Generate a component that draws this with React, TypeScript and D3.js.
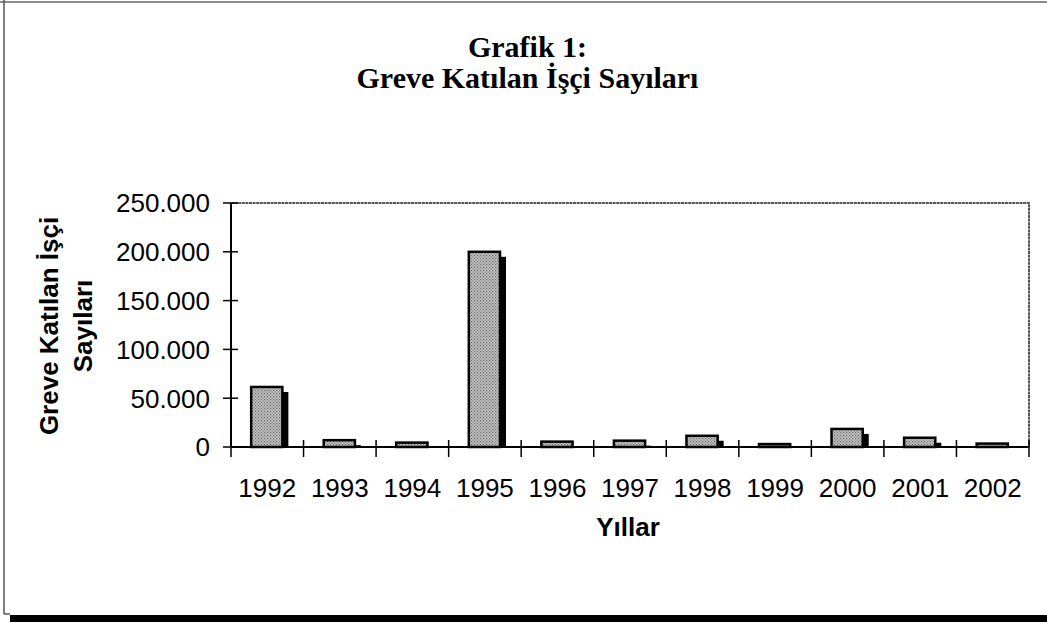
import React from 'react';
import * as d3 from 'd3';

// Greve katılan işçi sayıları (1992-2002)
const years = ['1992', '1993', '1994', '1995', '1996', '1997', '1998', '1999', '2000', '2001', '2002'];
const workers = [61500, 7000, 4500, 200000, 5500, 6500, 11500, 3000, 18500, 9500, 3500];
const yTicks = [0, 50000, 100000, 150000, 200000, 250000];

const titleLines = ['Grafik 1:', 'Greve Katılan İşçi Sayıları'];
const yTitleLines = ['Greve Katılan İşçi', 'Sayıları'];
const xTitle = 'Yıllar';

const W = 1047;
const H = 623;
const plot = { left: 231, right: 1029, top: 203, bottom: 447 };

const trFormat = d3.formatLocale({
  decimal: ',',
  thousands: '.',
  grouping: [3],
  currency: ['', ''],
}).format(',');

export default function App() {
  const x = d3.scaleBand().domain(years).range([plot.left, plot.right]).paddingInner(0).paddingOuter(0);
  const y = d3.scaleLinear().domain([0, 250000]).range([plot.bottom, plot.top]);

  const barW = x.bandwidth() * 0.43;
  const depth = { dx: 6, dy: 5 };
  const sans = 'Arial, "Liberation Sans", Helvetica, sans-serif';

  return (
    <svg width={W} height={H} style={{ position: 'absolute', left: 0, top: 0, background: '#fff' }}>
      <defs>
        <pattern id="dots" width="3" height="3" patternUnits="userSpaceOnUse">
          <rect width="3" height="3" fill="#c4c4c4" />
          <rect x="0" y="0" width="1.2" height="1.2" fill="#666" />
          <rect x="1.5" y="1.5" width="1.2" height="1.2" fill="#777" />
        </pattern>
      </defs>

      {/* frame */}
      <line x1={0} x2={W} y1={2} y2={2} stroke="#666" strokeWidth={1.5} />
      <line x1={4} x2={4} y1={0} y2={614} stroke="#555" strokeWidth={1.5} />
      <line x1={4} x2={10} y1={614} y2={614} stroke="#555" strokeWidth={1.5} />
      <rect x={10} y={615} width={W - 10} height={7} fill="#000" />

      {/* title */}
      <text textAnchor="middle" fontFamily='"Times New Roman", "Liberation Serif", serif' fontWeight="bold" fontSize={30} fill="#000">
        {titleLines.map((t, i) => (
          <tspan key={i} x={527.5} y={57 + i * 31}>{t}</tspan>
        ))}
      </text>

      {/* plot area border (top/right) */}
      <path
        d={`M${plot.left},${plot.top}H${plot.right}V${plot.bottom}`}
        fill="none"
        stroke="#555"
        strokeWidth={2}
        strokeDasharray="3 0.6"
      />

      {/* bars */}
      {years.map((yr, i) => {
        const cx = (x(yr) as number) + x.bandwidth() / 2 - 0.5;
        const x0 = cx - barW / 2;
        const top = y(workers[i]);
        return (
          <g key={yr}>
            <rect
              x={x0 + depth.dx}
              y={Math.min(top + depth.dy, plot.bottom)}
              width={barW}
              height={Math.max(plot.bottom - top - depth.dy, 0)}
              fill="#000"
            />
            <rect x={x0} y={top} width={barW} height={plot.bottom - top} fill="url(#dots)" stroke="#000" strokeWidth={2.5} />
          </g>
        );
      })}

      {/* y axis */}
      <line x1={plot.left} x2={plot.left} y1={plot.top} y2={plot.bottom} stroke="#000" strokeWidth={2} />
      {yTicks.map((t) => (
        <g key={t}>
          <line x1={plot.left - 8} x2={plot.left + 7} y1={y(t)} y2={y(t)} stroke="#000" strokeWidth={1.5} />
          <text x={210} y={y(t)} dy="0.36em" textAnchor="end" fontFamily={sans} fontSize={26} fill="#000">
            {trFormat(t)}
          </text>
        </g>
      ))}

      {/* x axis */}
      <line x1={plot.left} x2={plot.right} y1={plot.bottom} y2={plot.bottom} stroke="#000" strokeWidth={2} />
      {years.map((yr, i) => (
        <line
          key={'t' + i}
          x1={x(yr) as number}
          x2={x(yr) as number}
          y1={plot.bottom - 7}
          y2={plot.bottom + 10}
          stroke="#000"
          strokeWidth={1.5}
        />
      ))}
      <line x1={plot.right} x2={plot.right} y1={plot.bottom - 7} y2={plot.bottom + 10} stroke="#000" strokeWidth={1.5} />
      {years.map((yr) => (
        <text
          key={'l' + yr}
          x={(x(yr) as number) + x.bandwidth() / 2}
          y={497}
          textAnchor="middle"
          fontFamily={sans}
          fontSize={26}
          fill="#000"
        >
          {yr}
        </text>
      ))}

      {/* axis titles */}
      <text x={628} y={536} textAnchor="middle" fontFamily={sans} fontWeight="bold" fontSize={26} fill="#000">
        {xTitle}
      </text>
      <g transform="translate(58,326) rotate(-90)">
        <text textAnchor="middle" fontFamily={sans} fontWeight="bold" fontSize={26} fill="#000">
          {yTitleLines.map((t, i) => (
            <tspan key={i} x={0} y={i * 34}>{t}</tspan>
          ))}
        </text>
      </g>
    </svg>
  );
}
